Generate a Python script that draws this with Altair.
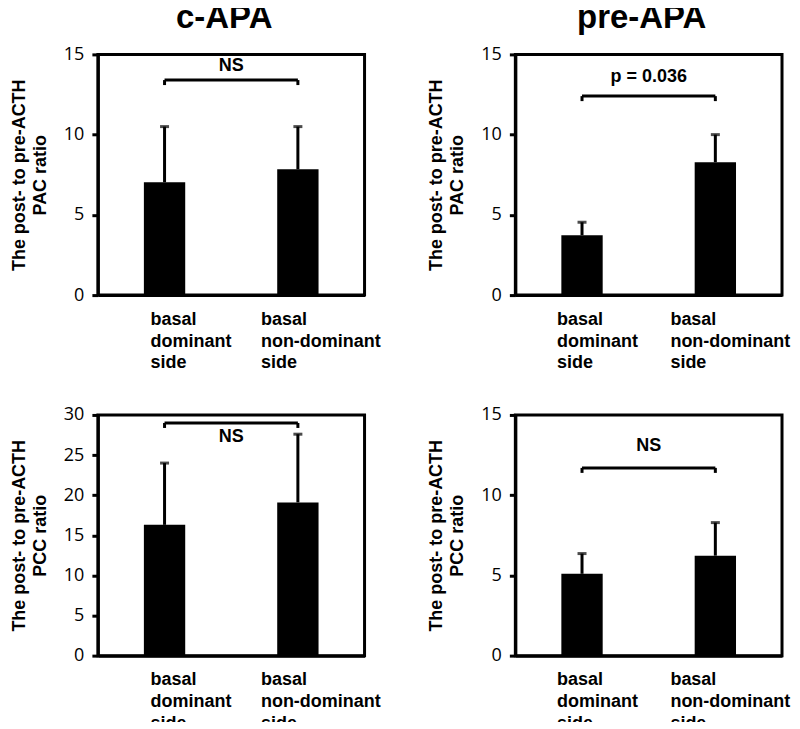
import altair as alt
import pandas as pd

categories = ["basal dominant side", "basal non-dominant side"]

panel_titles = ["c-APA", "pre-APA", "", ""]
y_titles = [
    ["The post- to pre-ACTH", "PAC ratio"],
    ["The post- to pre-ACTH", "PAC ratio"],
    ["The post- to pre-ACTH", "PCC ratio"],
    ["The post- to pre-ACTH", "PCC ratio"],
]
y_max = [15, 15, 30, 15]

# bar means and upper error (SD) per panel
means = [
    [7.03, 7.84],   # c-APA PAC
    [3.73, 8.28],   # pre-APA PAC
    [16.3, 19.1],   # c-APA PCC
    [5.10, 6.23],   # pre-APA PCC
]
errors = [
    [3.47, 2.66],
    [0.81, 1.72],
    [7.70, 8.50],
    [1.26, 2.06],
]

bracket_levels = [13.4, 12.4, 29.0, 11.7]
sig_labels = ["NS", "p = 0.036", "NS", "NS"]
sig_label_levels = [14.25, 13.6, 27.2, 13.05]

W, H = 267, 241
BOLD = "Liberation Sans"
# horizontal offsets of the two category label blocks (left col, right col)
LABEL_OFFSETS = [(-14, -37), (-25, -45), (-14, -37), (-25, -45)]


def panel(i):
    df = pd.DataFrame({
        "cat": categories,
        "mean": means[i],
        "top": [m + e for m, e in zip(means[i], errors[i])],
    })
    br = pd.DataFrame({"c1": [categories[0]], "c2": [categories[1]],
                       "y": [bracket_levels[i]], "label": [sig_labels[i]],
                       "ly": [sig_label_levels[i]]})
    ends = pd.DataFrame({"cat": categories, "y": [bracket_levels[i]] * 2})

    xsc = alt.Scale(domain=categories, paddingInner=0.69, paddingOuter=0.345)
    ysc = alt.Scale(domain=[0, y_max[i]], nice=False)

    o1, o2 = LABEL_OFFSETS[i]
    xax = alt.Axis(title=None, labelAngle=0, ticks=False, domain=True,
                   domainColor="black", domainWidth=3,
                   labelExpr="split(datum.label, ' ')",
                   labelFont=BOLD, labelFontWeight="bold", labelFontSize=18,
                   labelColor="black", labelAlign="left", labelBaseline="top",
                   labelOffset={"condition": {"test": f"datum.value == '{categories[0]}'",
                                              "value": o1}, "value": o2},
                   labelPadding=15, labelLineHeight=22)
    yax = alt.Axis(title=y_titles[i], values=list(range(0, y_max[i] + 1, 5)),
                   grid=False, tickSize=6, tickWidth=3, tickColor="black",
                   domainColor="black", domainWidth=3,
                   labelFont="Open Sans", labelFontSize=18, labelColor="black",
                   labelPadding=8,
                   titleFont=BOLD, titleFontWeight="bold", titleFontSize=18,
                   titleColor="black", titlePadding=14, titleLineHeight=21)

    bars = alt.Chart(df).mark_bar(color="black").encode(
        x=alt.X("cat:N", scale=xsc, axis=xax, sort=categories),
        y=alt.Y("mean:Q", scale=ysc, axis=yax),
    )
    err = alt.Chart(df).mark_rule(color="black", strokeWidth=3).encode(
        x=alt.X("cat:N", sort=categories), y="mean:Q", y2="top:Q")
    cap = alt.Chart(df).mark_tick(color="black", thickness=3, size=9,
                                  orient="horizontal").encode(
        x=alt.X("cat:N", sort=categories), y="top:Q")
    hline = alt.Chart(br).mark_rule(color="black", strokeWidth=3).encode(
        x=alt.X("c1:N", sort=categories), x2="c2:N", y="y:Q")
    vends = alt.Chart(ends).mark_rule(color="black", strokeWidth=3,
                                      y2Offset=5).encode(
        x=alt.X("cat:N", sort=categories), y="y:Q", y2="y:Q")
    txt = alt.Chart(br).mark_text(font=BOLD, fontWeight="bold", fontSize=18,
                                  color="black", baseline="middle").encode(
        x=alt.value(W / 2), y="ly:Q", text="label:N")

    ch = alt.layer(bars, err, cap, hline, vends, txt).properties(width=W, height=H)
    if panel_titles[i]:
        ch = ch.properties(title=alt.TitleParams(
            panel_titles[i], font=BOLD, fontWeight="bold", fontSize=33,
            color="black", anchor="middle", frame="group", dx=-7, offset=10))
    return ch


row1 = alt.hconcat(panel(0), panel(1), spacing=43)
row2 = alt.hconcat(panel(2), panel(3), spacing=43)
chart = alt.vconcat(row1, row2, spacing=30).properties(
    padding={"top": -8, "left": 0, "right": 0, "bottom": -13}
).configure_view(stroke="black", strokeWidth=3)

chart.save("out.html", embed_options={"renderer": "svg", "actions": False})
